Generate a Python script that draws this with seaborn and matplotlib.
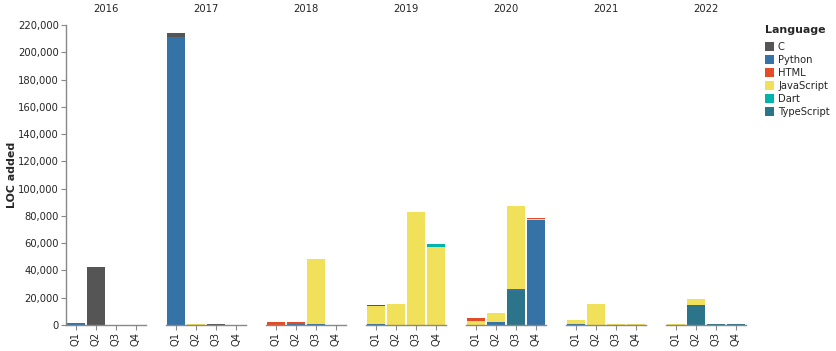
import matplotlib
matplotlib.use("Agg")
import matplotlib.pyplot as plt
import seaborn as sns
import pandas as pd
from matplotlib.patches import Patch
from matplotlib.ticker import FuncFormatter

# Data: LOC added per quarter, by language
years = [2016, 2017, 2018, 2019, 2020, 2021, 2022]
quarters = ["Q1", "Q2", "Q3", "Q4"]

#            2016                  2017                    2018                   2019                        2020                          2021                   2022
c_loc =    [0, 42200, 0, 0,       2700, 0, 1000, 0,       0, 0, 0, 0,            1000, 0, 0, 0,              0, 0, 0, 0,                   0, 0, 0, 0,            0, 0, 0, 0]
py_loc =   [1500, 0, 0, 0,        211200, 0, 0, 0,        0, 800, 800, 0,        600, 0, 0, 0,               0, 2200, 1000, 77000,         1000, 0, 0, 0,         0, 0, 0, 0]
html_loc = [0, 0, 0, 0,           0, 0, 0, 0,             2200, 1400, 0, 0,      0, 0, 0, 0,                 2500, 0, 0, 900,              0, 0, 0, 0,            0, 0, 0, 0]
js_loc =   [0, 0, 0, 300,         0, 400, 0, 300,         0, 0, 47600, 300,      13300, 15400, 82900, 57000, 2900, 6600, 61300, 700,       2900, 15200, 1000, 500, 500, 4400, 0, 0]
dart_loc = [0, 0, 0, 0,           0, 0, 0, 0,             0, 0, 0, 0,            0, 0, 0, 2400,              0, 0, 0, 0,                   0, 0, 0, 0,            0, 0, 0, 0]
ts_loc =   [0, 0, 0, 0,           0, 0, 0, 0,             0, 0, 0, 0,            0, 0, 0, 0,                 0, 0, 25200, 0,               0, 0, 0, 0,            0, 14900, 1000, 700]

legend_order = ["C", "Python", "HTML", "JavaScript", "Dart", "TypeScript"]
stack_order = ["TypeScript", "Python", "JavaScript", "HTML", "Dart", "C"]  # bottom -> top
colors = {"C": "#555555", "Python": "#3572A5", "HTML": "#e34c26",
          "JavaScript": "#f1e05a", "Dart": "#00B4AB", "TypeScript": "#2b7489"}

values = {"C": c_loc, "Python": py_loc, "HTML": html_loc,
          "JavaScript": js_loc, "Dart": dart_loc, "TypeScript": ts_loc}

rows = []
for i, year in enumerate(years):
    for j, q in enumerate(quarters):
        row = {"year": year, "quarter": q}
        total = 0
        for lang in stack_order:
            total += values[lang][i * 4 + j]
            row[lang] = total  # cumulative height
        rows.append(row)
df = pd.DataFrame(rows)

sns.set_style("white")
plt.rcParams["font.family"] = ["DejaVu Sans"]

W, H = 836, 351
fig = plt.figure(figsize=(W / 100, H / 100), dpi=100)

axis_grey = "#888888"
for i, year in enumerate(years):
    left = (66 + 100 * i) / W
    ax = fig.add_axes([left, (H - 325) / H, 80 / W, 300 / H])
    sub = df[df["year"] == year]
    # draw cumulative heights from the top layer down so lower layers overlay
    for lang in reversed(stack_order):
        sns.barplot(data=sub, x="quarter", y=lang, order=quarters,
                    color=colors[lang], saturation=1, width=0.9,
                    linewidth=0, errorbar=None, ax=ax)
    ax.set_xlim(-0.5, 3.5)
    ax.set_ylim(0, 220000)
    ax.set_xlabel("")
    ax.set_ylabel("")
    for s in ["top", "right"]:
        ax.spines[s].set_visible(False)
    ax.spines["bottom"].set_color(axis_grey)
    ax.spines["bottom"].set_linewidth(1)
    ax.tick_params(axis="x", length=3.6, width=0.8, color=axis_grey, pad=1.5,
                   labelsize=7.2, bottom=True)
    for lab in ax.get_xticklabels():
        lab.set_rotation(90)
        lab.set_ha("center")
        lab.set_va("top")
    if i == 0:
        ax.spines["left"].set_color(axis_grey)
        ax.spines["left"].set_linewidth(1)
        ax.set_yticks(range(0, 220001, 20000))
        ax.yaxis.set_major_formatter(FuncFormatter(lambda v, p: f"{int(v):,}"))
        ax.tick_params(axis="y", length=3.6, width=0.8, color=axis_grey, pad=1.5,
                       labelsize=7.2, left=True)
    else:
        ax.spines["left"].set_visible(False)
        ax.set_yticks([])
    ax.text(0.5, 1 + 16 / 300, str(year), transform=ax.transAxes,
            ha="center", va="center", fontsize=7.2)

fig.text(12 / W, (H - 175) / H, "LOC added", rotation=90, ha="center",
         va="center", fontsize=7.9, fontweight="bold")

# legend: title drawn separately so the gap below it matches
fig.text(765 / W, 1 - 30 / H, "Language", ha="left", va="center",
         fontsize=7.9, fontweight="bold")
handles = [Patch(facecolor=colors[l], edgecolor="none", label=l) for l in legend_order]
fig.legend(handles=handles, loc="upper left",
           bbox_to_anchor=(765 / W, 1 - 42 / H), frameon=False,
           fontsize=7.2, borderpad=0, borderaxespad=0,
           handlelength=0.9, handleheight=0.9, handletextpad=0.4,
           labelspacing=0.3)

fig.savefig("out.png", dpi=100)
